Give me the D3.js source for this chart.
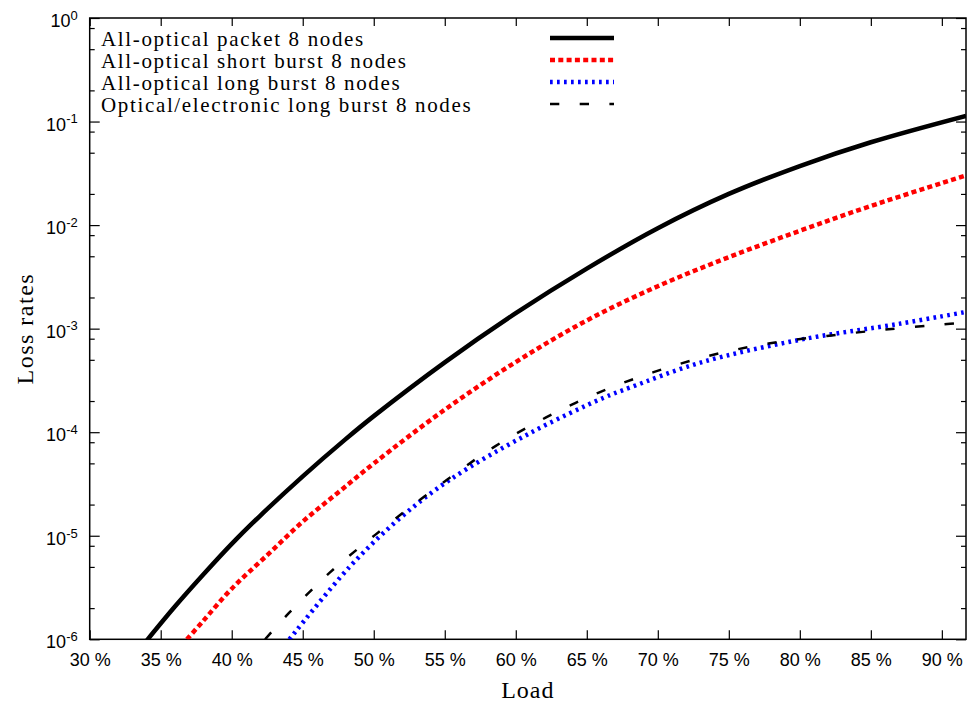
<!DOCTYPE html>
<html>
<head>
<meta charset="utf-8">
<script src="https://cdn.jsdelivr.net/npm/d3@7"></script>
<style>
body { margin: 0; background: #fff; }
</style>
</head>
<body>
<div id="chart-area"></div>
<script>
// values
const seriesNames = ["All-optical packet 8 nodes", "All-optical short burst 8 nodes",
                     "All-optical long burst 8 nodes", "Optical/electronic long burst 8 nodes"];

const packetLoad = [34, 36, 38, 40, 42, 45, 48, 50, 55, 60, 65, 70, 75, 80, 85, 91.7];
const packetLoss = [9.66e-7, 2.07e-6, 4.22e-6, 8.34e-6, 1.56e-5, 3.75e-5, 8.53e-5, 1.43e-4,
                    4.73e-4, 1.41e-3, 3.80e-3, 9.33e-3, 2.0e-2, 3.72e-2, 6.31e-2, 0.1135];

const shortLoad = [36.85, 38, 40, 42.5, 45, 47.5, 50, 55, 60, 65, 70, 75, 80, 85, 91.7];
const shortLoss = [1.0e-6, 1.51e-6, 3.08e-6, 6.5e-6, 1.37e-5, 2.62e-5, 4.99e-5, 1.65e-4,
                   4.76e-4, 1.20e-3, 2.57e-3, 4.9e-3, 8.81e-3, 1.53e-2, 3.02e-2];

const longLoad = [44.06, 48.3, 51.85, 55.4, 61.0, 66.15, 68.05, 73.0, 80.0, 87.1, 91.7];
const longLoss = [1.0e-6, 5.0e-6, 1.48e-5, 3.5e-5, 9.8e-5, 2.14e-4, 2.7e-4, 4.7e-4, 7.8e-4, 1.12e-3, 1.45e-3];

const oeLoad = [42.35, 44.0, 46.9, 50.1, 53.4, 58.4, 62.1, 65.8, 69.7, 73.7, 77.8, 81.9, 86.0, 90.1, 91.7];
const oeLoss = [1.0e-6, 1.78e-6, 4.4e-6, 1.02e-5, 2.3e-5, 7.1e-5, 1.38e-4, 2.4e-4, 3.8e-4, 5.5e-4,
                7.2e-4, 8.5e-4, 9.8e-4, 1.10e-3, 1.15e-3];

const xTicks = [30, 35, 40, 45, 50, 55, 60, 65, 70, 75, 80, 85, 90];
const yExps = [0, -1, -2, -3, -4, -5, -6];
const yMinorMult = [2, 5, 8];

const width = 969, height = 704;
const plot = {left: 89.7, top: 18, right: 966, bottom: 639.3};
const serif = "'Liberation Serif', 'Times New Roman', serif";
const sans = "'Liberation Sans', Arial, sans-serif";

const svg = d3.select("#chart-area").append("svg")
            .attr("width", width).attr("height", height);

const x = d3.scaleLinear().domain([30, 91.7]).range([plot.left, plot.right]);
const y = d3.scaleLog().domain([1e-6, 1]).range([plot.bottom, plot.top]);

svg.append("clipPath").attr("id", "clip")
    .append("rect").attr("x", plot.left).attr("y", plot.top)
    .attr("width", plot.right - plot.left).attr("height", plot.bottom - plot.top);

// x axes (bottom with labels, top ticks only)
const xAxis = svg.append("g")
    .attr("transform", "translate(0," + plot.bottom + ")")
    .call(d3.axisBottom(x).tickValues(xTicks).tickSize(-9).tickPadding(14)
          .tickFormat(d => d + " %"));
svg.append("g")
    .attr("transform", "translate(0," + plot.top + ")")
    .call(d3.axisTop(x).tickValues(xTicks).tickSize(-8).tickFormat(""));

// y axes
const yMajor = yExps.map(e => Math.pow(10, e));
const yMinor = [];
yExps.forEach(function(e) {
    if (e < 0) yMinorMult.forEach(m => yMinor.push(m * Math.pow(10, e)));
});

const yAxis = svg.append("g")
    .attr("transform", "translate(" + plot.left + ",0)")
    .call(d3.axisLeft(y).tickValues(yMajor).tickSize(-10).tickPadding(12).tickFormat(""));
svg.append("g")
    .attr("transform", "translate(" + plot.left + ",0)")
    .call(d3.axisLeft(y).tickValues(yMinor).tickSize(-5).tickFormat(""));
svg.append("g")
    .attr("transform", "translate(" + plot.right + ",0)")
    .call(d3.axisRight(y).tickValues(yMajor).tickSize(-10).tickFormat(""));
svg.append("g")
    .attr("transform", "translate(" + plot.right + ",0)")
    .call(d3.axisRight(y).tickValues(yMinor).tickSize(-5).tickFormat(""));

svg.selectAll(".domain").remove();
svg.selectAll(".tick line").attr("stroke", "#000").attr("stroke-width", 1.2);

xAxis.selectAll("text")
    .attr("font-family", sans)
    .attr("font-size", "18px").attr("fill", "#000");

// 10^n labels with superscript
yAxis.selectAll(".tick text").each(function(d) {
    const t = d3.select(this)
        .attr("font-family", sans)
        .attr("font-size", "18px").attr("fill", "#000")
        .attr("dy", "0.47em");
    t.append("tspan").text("10");
    t.append("tspan").attr("dy", "-0.55em").attr("font-size", "13px")
        .text(Math.round(Math.log10(d)));
});

// frame
svg.append("rect")
    .attr("x", plot.left).attr("y", plot.top)
    .attr("width", plot.right - plot.left).attr("height", plot.bottom - plot.top)
    .attr("fill", "none").attr("stroke", "#000").attr("stroke-width", 1.5);

// curves
const styles = [
    {color: "#000", width: 4.5, dash: null},
    {color: "#ff0000", width: 4.5, dash: "5,3.3"},
    {color: "#0000ff", width: 4.5, dash: "2.7,4.3"},
    {color: "#000", width: 2.5, dash: "9.3,20.4"}
];
const series = [
    d3.zip(packetLoad, packetLoss),
    d3.zip(shortLoad, shortLoss),
    d3.zip(longLoad, longLoss),
    d3.zip(oeLoad, oeLoss)
];

const line = d3.line()
    .x(d => x(d[0])).y(d => y(d[1]))
    .curve(d3.curveCatmullRom.alpha(0.5));

const curves = svg.append("g").attr("clip-path", "url(#clip)");
series.forEach(function(s, i) {
    curves.append("path").datum(s)
        .attr("d", line)
        .attr("fill", "none")
        .attr("stroke", styles[i].color)
        .attr("stroke-width", styles[i].width)
        .attr("stroke-dasharray", styles[i].dash);
});

// legend
const legend = svg.append("g");
seriesNames.forEach(function(name, i) {
    const ly = 38 + i * 22;
    legend.append("text")
        .attr("x", 101).attr("y", ly + 8)
        .attr("font-family", serif)
        .attr("font-size", "21px").attr("letter-spacing", "1.65px")
        .attr("fill", "#000")
        .text(name);
    legend.append("line")
        .attr("x1", 550).attr("x2", 614).attr("y1", ly).attr("y2", ly)
        .attr("stroke", styles[i].color)
        .attr("stroke-width", styles[i].width)
        .attr("stroke-dasharray", styles[i].dash);
});

// axis titles
svg.append("text")
    .attr("x", (plot.left + plot.right) / 2).attr("y", 698)
    .attr("text-anchor", "middle")
    .attr("font-family", serif)
    .attr("font-size", "24px").attr("letter-spacing", "1px").attr("fill", "#000")
    .text("Load");

svg.append("text")
    .attr("transform", "translate(33," + ((plot.top + plot.bottom) / 2) + ") rotate(-90)")
    .attr("text-anchor", "middle")
    .attr("font-family", serif)
    .attr("font-size", "24px").attr("letter-spacing", "1.5px").attr("fill", "#000")
    .text("Loss rates");
</script>
</body>
</html>
